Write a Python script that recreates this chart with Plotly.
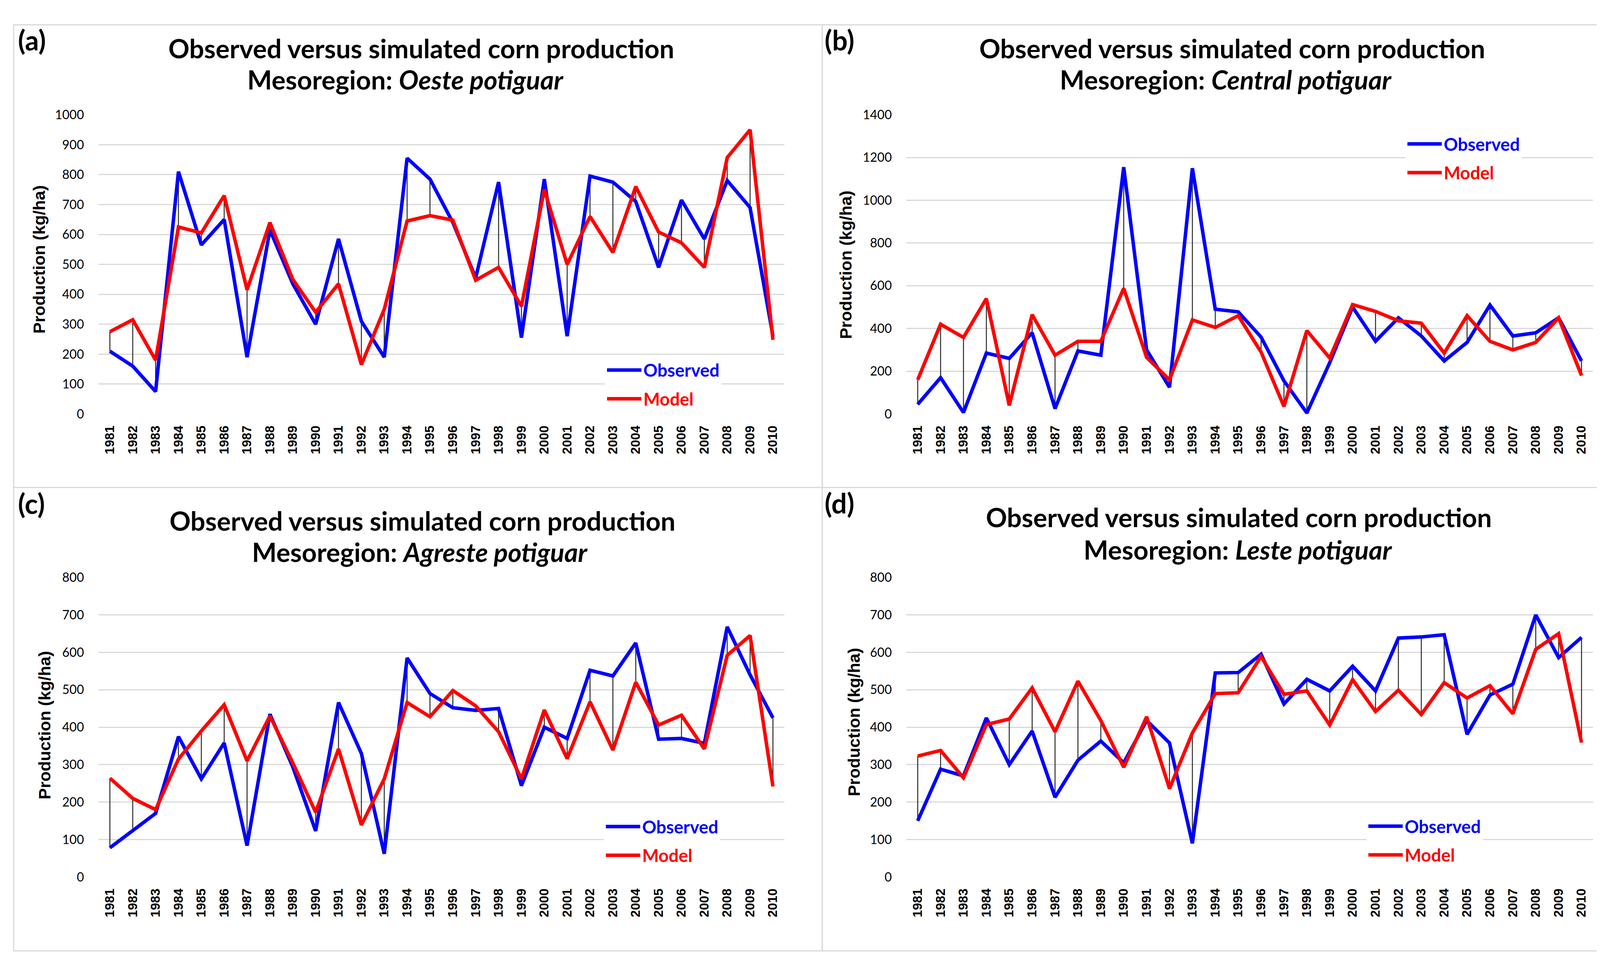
import plotly.graph_objects as go

W, H = 4192, 2467

years = [str(y) for y in range(1981, 2011)]

oeste_obs = [210, 160, 75, 810, 565, 650, 190, 615, 435, 300, 585, 310, 190, 855, 785,
             640, 455, 775, 255, 785, 260, 795, 775, 710, 490, 715, 585, 780, 690, 260]
oeste_mod = [275, 315, 180, 625, 605, 730, 415, 640, 450, 340, 435, 165, 350, 645, 663,
             648, 447, 490, 360, 750, 500, 660, 540, 760, 608, 572, 490, 857, 950, 248]

central_obs = [45, 170, 7, 285, 260, 380, 25, 295, 275, 1155, 300, 125, 1150, 490, 478,
               360, 155, 5, 240, 500, 340, 450, 365, 248, 335, 510, 365, 380, 450, 248]
central_mod = [160, 420, 358, 540, 40, 465, 275, 340, 340, 588, 265, 160, 440, 405, 460,
               290, 35, 390, 262, 512, 480, 436, 425, 285, 460, 340, 300, 335, 450, 180]

agreste_obs = [78, 125, 170, 375, 262, 358, 84, 435, 294, 123, 466, 330, 62, 585, 490,
               452, 445, 450, 244, 400, 370, 552, 537, 625, 368, 370, 357, 668, 540, 425]
agreste_mod = [264, 210, 180, 315, 390, 460, 310, 430, 305, 173, 342, 139, 262, 466, 428,
               498, 457, 388, 262, 446, 316, 468, 339, 520, 406, 432, 342, 592, 645, 242]

leste_obs = [150, 288, 270, 425, 300, 390, 213, 312, 363, 305, 418, 358, 90, 545, 546,
             595, 462, 528, 497, 563, 497, 638, 641, 647, 381, 486, 515, 700, 586, 640]
leste_mod = [323, 338, 265, 407, 422, 505, 388, 523, 418, 293, 428, 236, 385, 490, 492,
             589, 488, 497, 406, 527, 442, 499, 434, 519, 478, 511, 436, 608, 650, 359]

panel_letters = ["(a)", "(b)", "(c)", "(d)"]
regions = ["Oeste potiguar", "Central potiguar", "Agreste potiguar", "Leste potiguar"]
title_line1 = "Observed versus simulated corn production"
y_title = "Production (kg/ha)"
y_max = [1000, 1400, 800, 800]
y_dtick = [100, 200, 100, 100]
series_names = ["Observed", "Model"]

BLUE = "#0000ff"
RED = "#ff0000"
GRID = "#d9d9d9"


def px(x):
    return x / W


def py(y):
    return 1 - y / H


# panel geometry (pixels)
plot_x = [(244, 2000), (2312, 4070), (244, 2000), (2312, 4070)]
plot_y = [(269, 1047), (269, 1047), (1472, 2251), (1472, 2251)]
frames = [(27, 35, 2097, 1238), (2097, 35, 4167, 1238),
          (27, 1238, 2097, 2443), (2097, 1238, 4167, 2443)]
label_pos = [(36, 74), (2101, 74), (36, 1279), (2101, 1278)]
t1_pos = [(1070, 96), (3146, 96), (1073, 1324), (3163, 1315)]
t2_pos = [(1030, 177), (3130, 177), (1067, 1405), (3161, 1399)]
ytitle_pos = [(92, 645), (2157, 659), (106, 1856), (2178, 1848)]
legend_pos = [(1541, 970), (3590, 382), (1538, 2157), (3490, 2156)]

data = [(oeste_obs, oeste_mod), (central_obs, central_mod),
        (agreste_obs, agreste_mod), (leste_obs, leste_mod)]

fig = go.Figure()
annotations = []
shapes = []
layout_axes = {}

for i in range(4):
    obs, mod = data[i]
    sfx = "" if i == 0 else str(i + 1)
    xa, ya = "x" + sfx, "y" + sfx
    lg = "legend" + sfx

    # high-low (drop) lines between observed and model
    dx, dy = [], []
    for yr, o, m in zip(years, obs, mod):
        dx += [yr, yr, None]
        dy += [o, m, None]
    fig.add_trace(go.Scatter(x=dx, y=dy, mode="lines", xaxis=xa, yaxis=ya,
                             line=dict(color="#2a2a2a", width=2.5),
                             showlegend=False, hoverinfo="skip"))
    fig.add_trace(go.Scatter(
        x=years, y=obs, mode="lines", xaxis=xa, yaxis=ya,
        name='<span style="color:%s">%s</span>' % (BLUE, series_names[0]),
        line=dict(color=BLUE, width=9), legend=lg, legendgroup="obs%d" % i))
    fig.add_trace(go.Scatter(
        x=years, y=mod, mode="lines", xaxis=xa, yaxis=ya,
        name='<span style="color:%s">%s</span>' % (RED, series_names[1]),
        line=dict(color=RED, width=9), legend=lg, legendgroup="mod%d" % i))

    x0, x1 = plot_x[i]
    y0, y1 = plot_y[i]
    layout_axes["xaxis" + sfx] = dict(
        domain=[px(x0), px(x1)], anchor=ya, type="category",
        range=[-0.5, len(years) - 0.5], showgrid=False, zeroline=False,
        showline=False, ticks="", tickangle=-90, ticklabelstandoff=22,
        tickfont=dict(family="Liberation Sans, Arial, sans-serif", size=33,
                      color="#000000", weight="bold"),
        fixedrange=True)
    layout_axes["yaxis" + sfx] = dict(
        domain=[py(y1), py(y0)], anchor=xa, range=[0, y_max[i]],
        dtick=y_dtick[i], tick0=0, showgrid=True, gridcolor=GRID, gridwidth=3,
        zeroline=False, showline=False, ticks="", ticklabelstandoff=36,
        tickfont=dict(family="Lato, sans-serif", size=32, color="#000000"),
        fixedrange=True)

    layout_axes[lg] = dict(
        x=px(legend_pos[i][0]), y=py(legend_pos[i][1]),
        xanchor="left", yanchor="middle", bgcolor="white",
        font=dict(family="Lato, sans-serif", size=45, weight="bold"),
        tracegroupgap=12, itemwidth=88)

    fx0, fy0, fx1, fy1 = frames[i]
    shapes.append(dict(type="rect", xref="paper", yref="paper",
                       x0=px(fx0), x1=px(fx1), y0=py(fy1), y1=py(fy0),
                       line=dict(color=GRID, width=3), fillcolor="rgba(0,0,0,0)",
                       layer="below"))

    annotations.append(dict(
        text="<b>%s</b>" % panel_letters[i], xref="paper", yref="paper",
        x=px(label_pos[i][0]), y=py(label_pos[i][1]), xanchor="left",
        yanchor="middle", showarrow=False,
        font=dict(family="Lato, sans-serif", size=70, color="#000000")))
    annotations.append(dict(
        text="<b>%s</b>" % title_line1, xref="paper", yref="paper",
        x=px(t1_pos[i][0]), y=py(t1_pos[i][1]), xanchor="center",
        yanchor="middle", showarrow=False,
        font=dict(family="Lato, sans-serif", size=67, color="#000000")))
    annotations.append(dict(
        text="<b>Mesoregion: <i>%s</i></b>" % regions[i], xref="paper", yref="paper",
        x=px(t2_pos[i][0]), y=py(t2_pos[i][1]), xanchor="center",
        yanchor="middle", showarrow=False,
        font=dict(family="Lato, sans-serif", size=67, color="#000000")))
    annotations.append(dict(
        text="<b>%s</b>" % y_title, xref="paper", yref="paper",
        x=px(ytitle_pos[i][0]), y=py(ytitle_pos[i][1]), xanchor="center",
        yanchor="middle", showarrow=False, textangle=-90,
        font=dict(family="Liberation Sans, Arial, sans-serif", size=43,
                  color="#000000")))

fig.update_layout(
    width=W, height=H, margin=dict(l=0, r=0, t=0, b=0),
    paper_bgcolor="white", plot_bgcolor="white",
    annotations=annotations, shapes=shapes, hovermode=False,
    **layout_axes)

fig.write_html("out.html")
